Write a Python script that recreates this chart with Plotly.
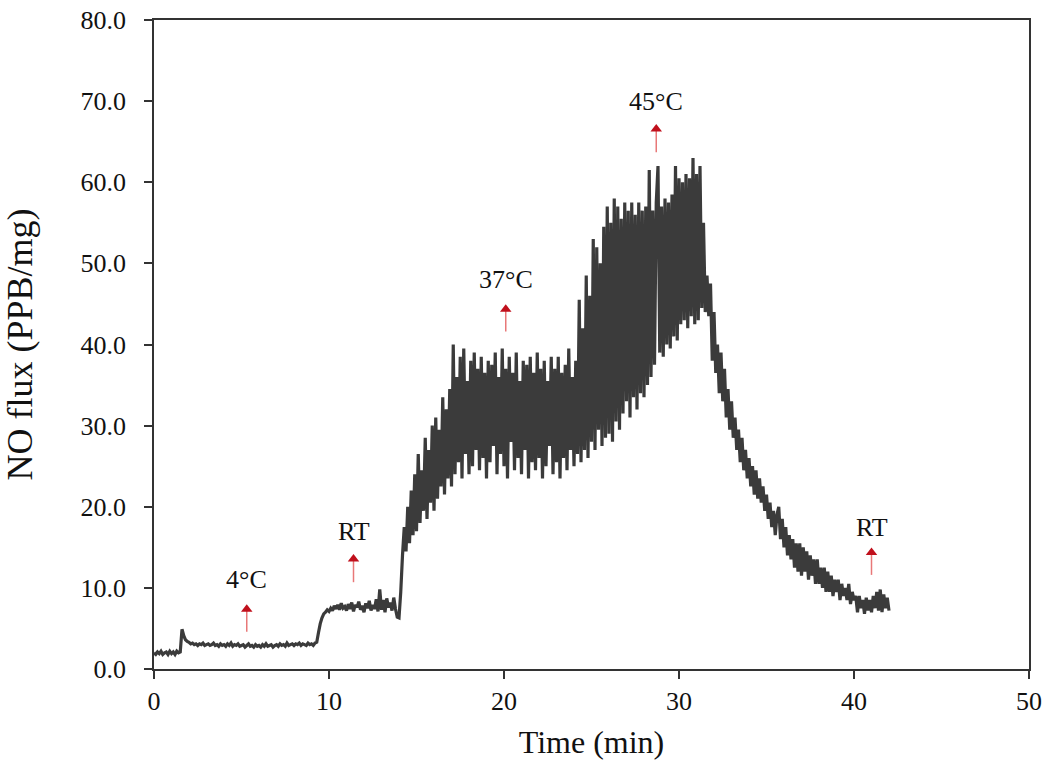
import plotly.graph_objects as go

sample_step_min = 0.1
no_flux = [
    # 0.0 - 0.9
    2.0, 1.8, 2.1, 1.9, 2.2, 1.8, 2.0, 2.1, 1.8, 2.2,
    # 1.x
    1.9, 2.1, 1.8, 2.2, 2.0, 2.1, 4.9, 4.1, 3.6, 3.4,
    # 2.x
    3.3, 3.1, 3.2, 3.0, 3.1, 2.9, 3.1, 3.0, 3.2, 2.9,
    # 3.x
    3.0, 3.1, 2.9, 3.0, 3.2, 2.9, 3.0, 2.8, 3.1, 2.9,
    # 4.x
    3.0, 2.8, 3.1, 2.9, 3.2, 2.8, 3.0, 2.9, 3.1, 2.8,
    # 5.x
    2.9, 3.0, 2.7, 2.9, 3.1, 2.8, 2.9, 2.7, 3.0, 2.8,
    # 6.x
    2.9, 2.7, 3.0, 2.8, 3.1, 2.8, 2.9, 3.0, 2.7, 2.9,
    # 7.x
    3.0, 2.8, 3.1, 2.9, 3.0, 2.8, 3.2, 2.9, 3.0, 3.1,
    # 8.x
    2.9, 3.1, 3.0, 3.2, 2.9, 3.1, 3.0, 2.9, 3.2, 3.0,
    # 9.x
    3.1, 2.9, 3.2, 3.3, 4.5, 5.6, 6.3, 6.8, 7.0, 7.3,
    # 10.x
    7.1, 7.5, 7.2, 7.8, 7.4, 7.9, 7.3, 8.1, 7.5, 7.7,
    # 11.x
    7.2, 8.0, 7.4, 8.2, 7.1, 7.9, 7.6, 8.3, 7.3, 7.8,
    # 12.x
    7.0, 8.1, 7.5, 8.4, 7.2, 7.9, 7.4, 8.6, 7.1, 9.8,
    # 13.x
    7.3, 8.5, 7.0, 8.7, 7.6, 8.2, 7.2, 8.8, 7.4, 6.4,
    # 14.x
    6.3, 9.5, 14.0, 17.5, 14.5, 20.0, 15.5, 22.0, 16.5, 24.0,
    # 15.x
    17.0, 26.5, 18.0, 24.5, 19.5, 28.5, 18.5, 27.0, 20.5, 30.0,
    # 16.x
    19.5, 31.0, 21.0, 29.5, 22.5, 33.5, 21.5, 32.0, 23.5, 34.5,
    # 17.x
    22.5, 40.0, 24.0, 36.0, 25.5, 38.5, 23.5, 39.5, 26.5, 35.5,
    # 18.x
    24.0, 38.0, 25.0, 39.0, 27.0, 37.0, 24.5, 38.5, 26.0, 36.5,
    # 19.x
    23.5, 38.0, 25.5, 37.5, 27.5, 39.0, 24.0, 36.0, 26.5, 39.5,
    # 20.x
    25.0, 37.0, 23.5, 38.5, 28.0, 36.5, 24.5, 39.0, 26.0, 35.5,
    # 21.x
    24.0, 38.0, 27.0, 37.5, 23.5, 38.5, 25.5, 36.5, 24.5, 39.0,
    # 22.x
    26.0, 37.0, 23.5, 38.0, 25.0, 35.5, 27.5, 38.5, 24.0, 37.0,
    # 23.x
    25.5, 38.5, 23.5, 36.5, 26.0, 37.5, 24.5, 39.5, 27.0, 36.0,
    # 24.x
    25.0, 38.0, 26.5, 45.5, 25.5, 42.0, 27.0, 48.5, 26.0, 46.0,
    # 25.x
    28.0, 53.0, 27.0, 52.0, 29.5, 50.0, 27.5, 54.5, 28.5, 57.0,
    # 26.x
    29.0, 55.0, 28.0, 58.0, 30.5, 57.0, 29.5, 55.5, 31.5, 57.5,
    # 27.x
    33.0, 56.5, 31.0, 57.5, 33.5, 56.0, 32.0, 57.5, 34.0, 56.5,
    # 28.x
    33.5, 57.0, 35.0, 61.5, 36.0, 56.5, 37.5, 57.5, 62.0, 39.0,
    # 29.x
    57.0, 38.5, 58.0, 40.0, 57.5, 39.5, 58.5, 41.0, 62.0, 40.5,
    # 30.x
    60.5, 42.5, 60.0, 43.0, 61.0, 42.0, 60.5, 43.5, 63.0, 42.5,
    # 31.x
    61.0, 43.0, 62.0, 44.5, 55.0, 44.0, 48.5, 43.5, 47.5, 38.0,
    # 32.x
    44.0, 36.5, 40.0, 34.0, 39.0, 33.0, 37.0, 31.0, 34.5, 29.5,
    # 33.x
    33.0, 28.5, 31.0, 27.0, 29.5, 25.5, 28.5, 24.5, 27.0, 23.5,
    # 34.x
    26.0, 22.5, 25.0, 21.5, 24.5, 21.0, 23.5, 20.5, 22.5, 19.5,
    # 35.x
    21.5, 18.5, 20.5, 17.5, 19.5, 16.5, 19.0, 20.0, 16.0, 18.5,
    # 36.x
    15.0, 17.5, 14.0, 16.5, 13.5, 16.0, 12.5, 15.5, 12.0, 15.5,
    # 37.x
    11.5, 15.0, 12.0, 14.5, 11.0, 14.0, 11.5, 13.5, 10.5, 13.5,
    # 38.x
    10.5, 12.5, 10.0, 12.5, 9.5, 12.0, 9.5, 11.5, 9.0, 11.0,
    # 39.x
    9.5, 11.0, 8.5, 10.5, 9.0, 10.0, 8.5, 10.5, 8.0, 9.5,
    # 40.x
    8.5, 9.0, 7.0, 9.0, 7.5, 8.5, 6.8, 8.8, 7.2, 8.5,
    # 41.x
    7.0, 9.0, 7.5, 9.5, 7.2, 9.8, 7.0, 9.2, 7.5, 8.8,
    # 42.0
    7.2,
]
time_min = [round(i * sample_step_min, 1) for i in range(len(no_flux))]

# Temperature-change markers (arrows + labels)
marker_labels = ["4°C", "RT", "37°C", "45°C", "RT"]
marker_time = [5.3, 11.4, 20.1, 28.7, 41.0]
arrow_tip = [7.9, 14.1, 44.9, 67.1, 14.9]
arrow_base = [4.6, 10.7, 41.6, 63.7, 11.6]
label_y = [11.0, 16.9, 48.0, 70.0, 17.5]

x_ticks = [0, 10, 20, 30, 40, 50]
y_ticks = [0, 10, 20, 30, 40, 50, 60, 70, 80]

FONT = "Liberation Serif"

fig = go.Figure()
fig.add_trace(go.Scatter(
    x=time_min, y=no_flux, mode="lines",
    line=dict(color="#3b3b3b", width=3.2, simplify=False),
    showlegend=False, hoverinfo="skip",
))

# arrow shafts
shaft_x, shaft_y = [], []
for t, b, tip in zip(marker_time, arrow_base, arrow_tip):
    shaft_x += [t, t, None]
    shaft_y += [b, tip - 0.6, None]
fig.add_trace(go.Scatter(
    x=shaft_x, y=shaft_y, mode="lines",
    line=dict(color="#e87878", width=1.5),
    showlegend=False, hoverinfo="skip",
))
# arrow heads
fig.add_trace(go.Scatter(
    x=marker_time, y=[tip - 0.55 for tip in arrow_tip], mode="markers",
    marker=dict(symbol="triangle-up", size=10, color="#c0101c", line=dict(width=0)),
    showlegend=False, hoverinfo="skip",
))

for txt, t, ly in zip(marker_labels, marker_time, label_y):
    fig.add_annotation(x=t, y=ly, text=txt, showarrow=False,
                       font=dict(family=FONT, size=26, color="#111"))

axis_common = dict(
    showline=True, linecolor="#333", linewidth=1.5, mirror=True,
    ticks="outside", ticklen=8, tickwidth=1.5, tickcolor="#333",
    showgrid=False, zeroline=False, automargin=False,
    ticklabeloverflow="allow",
    tickfont=dict(family=FONT, size=26, color="#111"),
)

fig.update_xaxes(range=[0, 50], tickvals=x_ticks, ticklabelstandoff=0,
                 title=dict(text="Time (min)", font=dict(family=FONT, size=32, color="#111"), standoff=16),
                 **axis_common)
fig.update_yaxes(range=[0, 80], tickvals=y_ticks, tickformat=".1f", ticklabelstandoff=13,
                 title=dict(text="NO flux (PPB/mg)", font=dict(family=FONT, size=36, color="#111"), standoff=49),
                 **axis_common)

# plot box at x 154..1029, y 20..669 in the 1050x766 window (page body margin removed below)
fig.update_layout(
    width=1050, height=766,
    margin=dict(l=154, r=21, t=20, b=97),
    paper_bgcolor="white", plot_bgcolor="white",
)

fig.write_html("out.html", config={"displayModeBar": False},
               post_script="document.body.style.margin='0';")
